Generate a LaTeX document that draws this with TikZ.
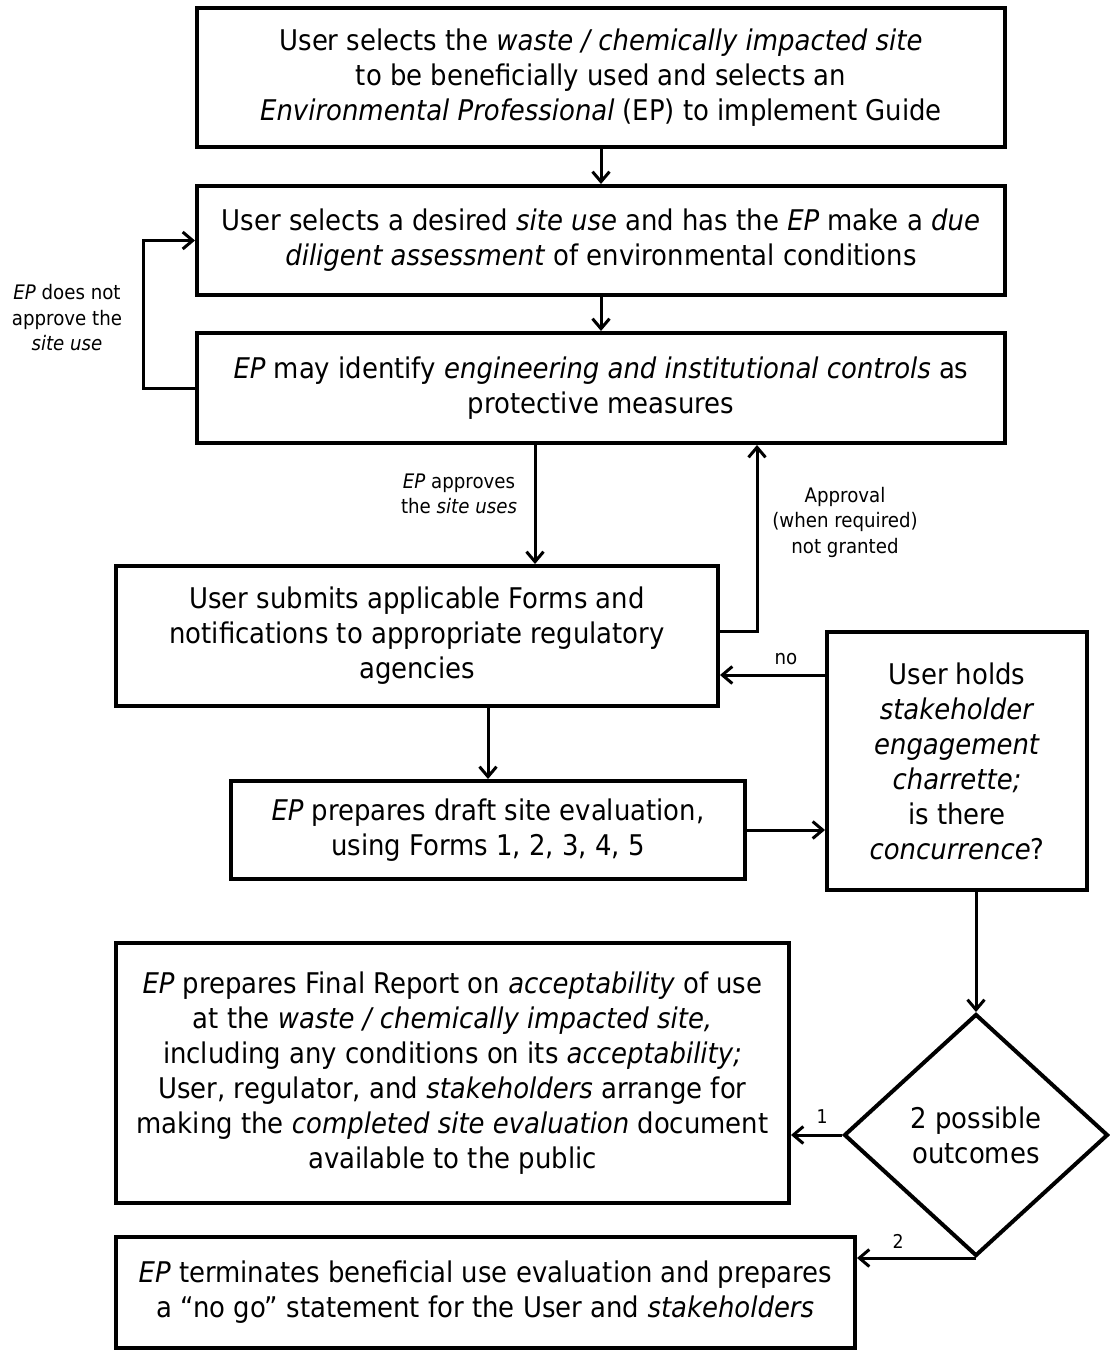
\documentclass[tikz,border=0pt]{standalone}
\usepackage{fontspec}
\setmainfont{DejaVu Sans}[FakeStretch=0.91]
\usetikzlibrary{arrows.meta,shapes.geometric}
\begin{document}
\begin{tikzpicture}[x=1pt,y=-1pt,
  box/.style={draw,line width=4pt,align=center,inner sep=0pt,
    font=\fontsize{28.5}{35}\selectfont},
  arr/.style={line width=3pt,-{Straight Barb[length=10pt,width=17pt,line width=3pt]}},
  lbl/.style={align=center,inner sep=0pt,font=\fontsize{20}{25.5}\selectfont},
  num/.style={inner sep=0pt,font=\fontsize{19}{20}\selectfont}]
\useasboundingbox (0,0) rectangle (1109,1352);
\node[box,minimum width=808pt,minimum height=139pt] (b1) at (601,77.5)
 {User selects the \textit{waste / chemically impacted site}\\ to be beneficially used and selects an\\ \textit{Environmental Professional} (EP) to implement Guide};
\node[box,minimum width=808pt,minimum height=109pt] (b2) at (601,240.5)
 {User selects a desired \textit{site use} and has the \textit{EP} make a \textit{due}\\ \textit{diligent assessment} of environmental conditions};
\node[box,minimum width=808pt,minimum height=110pt] (b3) at (601,388)
 {\textit{EP} may identify \textit{engineering and institutional controls} as\\ protective measures};
\node[box,minimum width=602pt,minimum height=140pt] (b4) at (417,636)
 {User submits applicable Forms and\\ notifications to appropriate regulatory\\ agencies};
\node[box,minimum width=260pt,minimum height=258pt] (b5) at (957,761)
 {User holds\\ \textit{stakeholder}\\ \textit{engagement}\\ \textit{charrette;}\\ is there\\ \textit{concurrence}?};
\node[box,minimum width=514pt,minimum height=98pt] (b6) at (488,830)
 {\textit{EP} prepares draft site evaluation,\\ using Forms 1, 2, 3, 4, 5};
\node[box,shape=diamond,minimum width=264pt,minimum height=242pt] (d) at (976,1135)
 {2 possible\\ outcomes};
\node[box,minimum width=673pt,minimum height=260pt] (b7) at (452.5,1073)
 {\textit{EP} prepares Final Report on \textit{acceptability} of use\\ at the \textit{waste / chemically impacted site,}\\ including any conditions on its \textit{acceptability;}\\ User, regulator, and \textit{stakeholders} arrange for\\ making the \textit{completed site evaluation} document\\ available to the public};
\node[box,minimum width=739pt,minimum height=111pt] (b8) at (485.5,1292.5)
 {\textit{EP} terminates beneficial use evaluation and prepares\\ a “no go” statement for the User and \textit{stakeholders}};
% labels
\node[lbl] (l1) at (67,318) {\textit{EP} does not\\ approve the\\ \textit{site use}};
\node[lbl] (l2) at (459,494) {\textit{EP} approves\\ the \textit{site uses}};
\node[lbl] (l3) at (845,522) {Approval\\ (when required)\\ not granted};
\node[lbl] (l4) at (786,659) {no};
\node[num] (l5) at (822,1117) {1};
\node[num] (l6) at (898,1241) {2};
% helper coordinates
\coordinate (x535) at (535,0);
\coordinate (x757) at (757,0);
\coordinate (x143) at (143,0);
\coordinate (noS) at ([yshift=86pt]b5.west);
\coordinate (apS) at ([yshift=5pt]b4.east);
% connectors
\draw[arr] (b1) -- (b2);
\draw[arr] (b2) -- (b3);
\draw[arr] (b3.west) -- (x143 |- b3.west) -- (x143 |- b2.west) -- (b2.west);
\draw[arr] (x535 |- b3.south) -- (x535 |- b4.north);
\draw[arr] (apS) -- (x757 |- apS) -- (x757 |- b3.south);
\draw[arr] (noS) -- (noS -| b4.east);
\draw[arr] (b6.north |- b4.south) -- (b6.north);
\draw[arr] (b6.east) -- (b6.east -| b5.west);
\draw[arr] (d.north |- b5.south) -- (d.north);
\draw[arr] (d.west) -- (d.west -| b7.east);
\draw[arr] (d.south) -- (d.south -| b8.east);
\end{tikzpicture}
\end{document}
